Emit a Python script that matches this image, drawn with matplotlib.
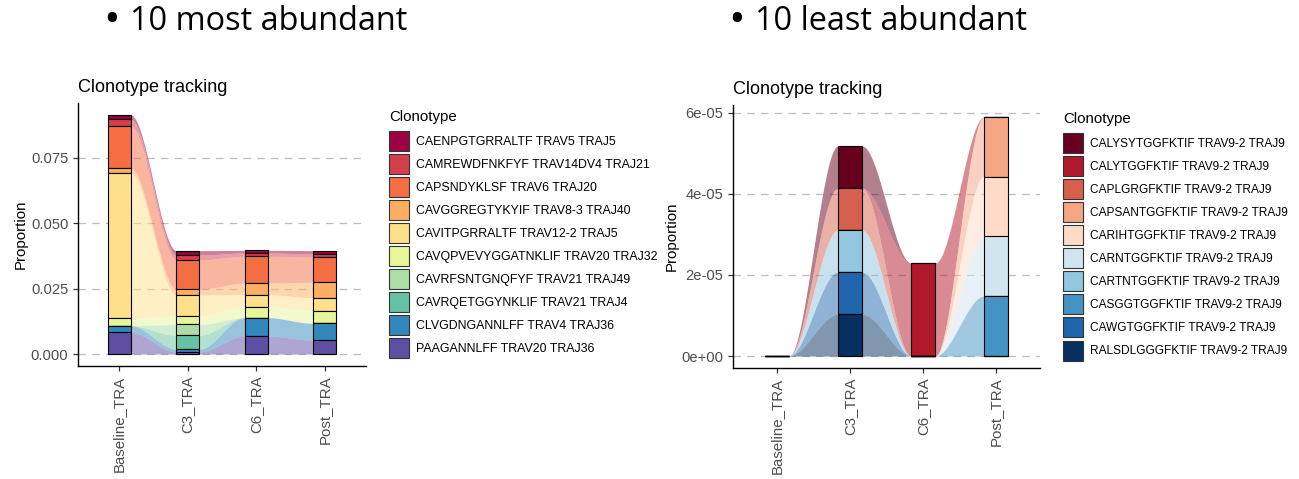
import numpy as np
import matplotlib.pyplot as plt
from matplotlib.patches import Patch

plt.rcParams['font.family'] = ['Liberation Sans', 'DejaVu Sans']

samples = ['Baseline_TRA', 'C3_TRA', 'C6_TRA', 'Post_TRA']

# 10 most abundant clonotypes (legend order, first one sits on top of the stack)
top_clones = ['CAENPGTGRRALTF TRAV5 TRAJ5', 'CAMREWDFNKFYF TRAV14DV4 TRAJ21',
              'CAPSNDYKLSF TRAV6 TRAJ20', 'CAVGGREGTYKYIF TRAV8-3 TRAJ40',
              'CAVITPGRRALTF TRAV12-2 TRAJ5', 'CAVQPVEVYGGATNKLIF TRAV20 TRAJ32',
              'CAVRFSNTGNQFYF TRAV21 TRAJ49', 'CAVRQETGGYNKLIF TRAV21 TRAJ4',
              'CLVGDNGANNLFF TRAV4 TRAJ36', 'PAAGANNLFF TRAV20 TRAJ36']
top_colors = ['#9E0142', '#D53E4F', '#F46D43', '#FDAE61', '#FEE08B',
              '#E6F598', '#ABDDA4', '#66C2A5', '#3288BD', '#5E4FA2']
top_baseline = [0.0017, 0.0025, 0.0162, 0.0019, 0.0554, 0.0028, 0.0, 0.0, 0.0025, 0.0083]
top_c3 = [0.0017, 0.0019, 0.0112, 0.0022, 0.0080, 0.0032, 0.0042, 0.0053, 0.0010, 0.0008]
top_c6 = [0.0010, 0.0013, 0.0102, 0.0045, 0.0045, 0.0042, 0.0, 0.0, 0.0070, 0.0069]
top_post = [0.0013, 0.0010, 0.0098, 0.0059, 0.0050, 0.0048, 0.0, 0.0, 0.0064, 0.0053]

# 10 least abundant clonotypes
low_clones = ['CALYSYTGGFKTIF TRAV9-2 TRAJ9', 'CALYTGGFKTIF TRAV9-2 TRAJ9',
              'CAPLGRGFKTIF TRAV9-2 TRAJ9', 'CAPSANTGGFKTIF TRAV9-2 TRAJ9',
              'CARIHTGGFKTIF TRAV9-2 TRAJ9', 'CARNTGGFKTIF TRAV9-2 TRAJ9',
              'CARTNTGGFKTIF TRAV9-2 TRAJ9', 'CASGGTGGFKTIF TRAV9-2 TRAJ9',
              'CAWGTGGFKTIF TRAV9-2 TRAJ9', 'RALSDLGGGFKTIF TRAV9-2 TRAJ9']
low_colors = ['#67001F', '#B2182B', '#D6604D', '#F4A582', '#FDDBC7',
              '#D1E5F0', '#92C5DE', '#4393C3', '#2166AC', '#053061']
low_baseline = [0, 0, 0, 0, 0, 0, 0, 0, 0, 0]
low_c3 = [1.04e-5, 0, 1.04e-5, 0, 0, 0, 1.03e-5, 0, 1.04e-5, 1.03e-5]
low_c6 = [0, 2.3e-5, 0, 0, 0, 0, 0, 0, 0, 0]
low_post = [0, 0, 0, 1.47e-5, 1.48e-5, 1.47e-5, 0, 1.48e-5, 0, 0]


def draw_alluvial(ax, values, colors, width=1/3):
    vals = np.array(values, dtype=float)          # samples x clones
    top = np.cumsum(vals[:, ::-1], axis=1)[:, ::-1]
    bottom = top - vals
    x = np.arange(1, len(values) + 1)
    t = np.linspace(0, 1, 80)
    s = 3 * t**2 - 2 * t**3
    for i in range(len(x) - 1):
        xs = x[i] + width / 2 + (x[i + 1] - x[i] - width) * t
        for k in range(vals.shape[1]):
            lo = bottom[i, k] + (bottom[i + 1, k] - bottom[i, k]) * s
            hi = top[i, k] + (top[i + 1, k] - top[i, k]) * s
            ax.fill_between(xs, lo, hi, color=colors[k], alpha=0.5, lw=0, zorder=1)
    for i in range(len(x)):
        for k in range(vals.shape[1]):
            ax.bar(x[i], vals[i, k], bottom=bottom[i, k], width=width,
                   color=colors[k], edgecolor='black', lw=0.8, zorder=3)
    ax.set_xlim(0.4, len(x) + 0.6)
    ax.set_xticks(x)
    ax.set_xticklabels(samples, rotation=90, va='top', ha='center', fontsize=10.8)
    ymax = top.max()
    ax.set_ylim(-0.05 * ymax, 1.05 * ymax)


def style(ax, yticks, ylabels):
    ax.set_yticks(yticks)
    ax.set_yticklabels(ylabels, fontsize=10.6)
    ax.spines['top'].set_visible(False)
    ax.spines['right'].set_visible(False)
    for sp in ['left', 'bottom']:
        ax.spines[sp].set_linewidth(1.0)
    ax.yaxis.grid(True, linestyle=(0, (6, 5)), color='#BDBDBD', lw=0.9)
    ax.set_axisbelow(True)
    ax.tick_params(colors='#4D4D4D', length=3.5, width=0.9)
    ax.tick_params(color='#333333')
    ax.set_ylabel('Proportion', fontsize=10.8, labelpad=2)
    ax.set_title('Clonotype tracking', loc='left', fontsize=13, pad=8)


fig = plt.figure(figsize=(12.99, 4.79), dpi=100)
W, H = 1299, 479

ax1 = fig.add_axes([78 / W, 1 - 366 / H, 288 / W, 263 / H])
draw_alluvial(ax1, [top_baseline, top_c3, top_c6, top_post], top_colors)
style(ax1, [0, 0.025, 0.05, 0.075], ['0.000', '0.025', '0.050', '0.075'])

ax2 = fig.add_axes([733 / W, 1 - 368 / H, 307 / W, 263 / H])
draw_alluvial(ax2, [low_baseline, low_c3, low_c6, low_post], low_colors)
style(ax2, [0, 2e-5, 4e-5, 6e-5], ['0e+00', '2e-05', '4e-05', '6e-05'])

for clones, colors, x0, y0, fs in [(top_clones, top_colors, 389, 131, 8.9),
                                   (low_clones, low_colors, 1063, 133, 8.6)]:
    fig.text(x0 / W, 1 - (y0 - 14) / H, 'Clonotype', fontsize=10.8,
             ha='left', va='center')
    handles = [Patch(facecolor=c, edgecolor='#333333', lw=0.8) for c in colors]
    hl = 14.4 / fs
    fig.legend(handles, clones, loc='upper left', bbox_to_anchor=(x0 / W, 1 - y0 / H),
               frameon=False, fontsize=fs,
               handlelength=hl, handleheight=(hl - 0.245) / 0.65,
               labelspacing=2.2 / fs, handletextpad=0.6,
               borderpad=0, borderaxespad=0)

for x0, label in [(105, '10 most abundant'), (730, '10 least abundant')]:
    fig.text((x0 - 2) / W, 1 - 22 / H, '\u2022', fontsize=32,
             family=['Open Sans', 'DejaVu Sans'], va='center', ha='left')
    fig.text((x0 + 25) / W, 1 - 22 / H, label, fontsize=23.4,
             family=['Open Sans', 'DejaVu Sans'], va='center', ha='left')

fig.savefig('out.png', dpi=100, facecolor='white')
